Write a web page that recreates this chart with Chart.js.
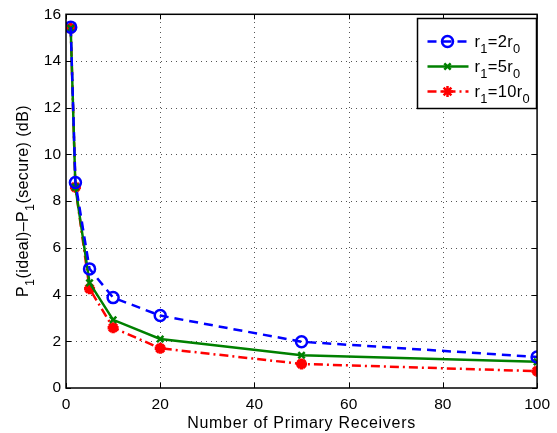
<!DOCTYPE html>
<html>
<head>
<meta charset="utf-8">
<script src="https://cdn.jsdelivr.net/npm/chart.js@4/dist/chart.umd.min.js"></script>
<style>
  html, body { margin: 0; padding: 0; background: #fff; }
  #wrap { width: 557px; height: 433px; }
</style>
</head>
<body>
<div id="wrap"><canvas id="c" width="557" height="433"></canvas></div>
<script>
// --- Data ---
const receivers = [1, 2, 5, 10, 20, 50, 100];
const ratio2 = [15.45, 8.8, 5.1, 3.87, 3.1, 1.98, 1.33];
const ratio5 = [15.4, 8.6, 4.5, 2.92, 2.1, 1.4, 1.12];
const ratio10 = [15.4, 8.6, 4.25, 2.58, 1.7, 1.03, 0.72];
const xTicks = [0, 20, 40, 60, 80, 100];
const yTicks = [0, 2, 4, 6, 8, 10, 12, 14, 16];

const FONT = 'Liberation Sans, Arial, Helvetica, sans-serif';

const series = [
    { name: ['r', '1', '=2r', '0'], values: ratio2, color: '#0000ff', dash: [9, 6], style: 'circle', radius: 5.5, fill: 'rgba(0,0,0,0)' },
    { name: ['r', '1', '=5r', '0'], values: ratio5, color: '#008000', dash: [], style: 'crossRot', radius: 4.5, fill: '#008000' },
    { name: ['r', '1', '=10r', '0'], values: ratio10, color: '#ff0000', dash: [9, 4, 2, 4], style: 'star', radius: 5.5, fill: '#ff0000' }
];

// text with subscripts: odd parts are subscripts
function drawSubText(ctx, parts, x, y, size) {
    let cx = x;
    parts.forEach((p, i) => {
        const sub = i % 2 === 1;
        ctx.font = (sub ? size * 0.78 : size) + 'px ' + FONT;
        ctx.fillText(p, cx, y + (sub ? size * 0.38 : 0));
        cx += ctx.measureText(p).width;
    });
    return cx - x;
}
function measureSubText(ctx, parts, size) {
    let w = 0;
    parts.forEach((p, i) => {
        ctx.font = (i % 2 === 1 ? size * 0.78 : size) + 'px ' + FONT;
        w += ctx.measureText(p).width;
    });
    return w;
}

const framePlugin = {
    id: 'frame',
    beforeDatasetsDraw(chart) {
        // dotted grid
        const ctx = chart.ctx;
        const a = chart.chartArea;
        const xs = chart.scales.x, ys = chart.scales.y;
        ctx.save();
        ctx.strokeStyle = '#555';
        ctx.lineWidth = 1;
        ctx.setLineDash([1, 4]);
        ctx.beginPath();
        xTicks.slice(1, -1).forEach(v => {
            const px = Math.round(xs.getPixelForValue(v)) + 0.5;
            ctx.moveTo(px, a.bottom); ctx.lineTo(px, a.top);
        });
        yTicks.slice(1, -1).forEach(v => {
            const py = Math.round(ys.getPixelForValue(v)) + 0.5;
            ctx.moveTo(a.left, py); ctx.lineTo(a.right, py);
        });
        ctx.stroke();
        ctx.restore();
    },
    afterDraw(chart) {
        const ctx = chart.ctx;
        const a = chart.chartArea;
        const xs = chart.scales.x, ys = chart.scales.y;
        ctx.save();
        ctx.strokeStyle = '#000';
        ctx.lineWidth = 1.5;
        ctx.setLineDash([]);
        ctx.strokeRect(a.left, a.top, a.right - a.left, a.bottom - a.top);
        ctx.lineWidth = 1;
        ctx.beginPath();
        xTicks.forEach(v => {
            const px = Math.round(xs.getPixelForValue(v)) + 0.5;
            ctx.moveTo(px, a.bottom); ctx.lineTo(px, a.bottom - 5);
            ctx.moveTo(px, a.top); ctx.lineTo(px, a.top + 5);
        });
        yTicks.forEach(v => {
            const py = Math.round(ys.getPixelForValue(v)) + 0.5;
            ctx.moveTo(a.left, py); ctx.lineTo(a.left + 5, py);
            ctx.moveTo(a.right, py); ctx.lineTo(a.right - 5, py);
        });
        ctx.stroke();

        // axis titles
        ctx.fillStyle = '#000';
        ctx.textBaseline = 'alphabetic';
        ctx.textAlign = 'left';
        ctx.letterSpacing = '0.7px';
        ctx.font = '16px ' + FONT;
        const xt = 'Number of Primary Receivers';
        const xw = ctx.measureText(xt).width;
        ctx.fillText(xt, (a.left + a.right) / 2 - xw / 2, 428);

        const yParts = ['P', '1', '(ideal)\u2013P', '1', '(secure) (dB)'];
        ctx.letterSpacing = '0.4px';
        const yw = measureSubText(ctx, yParts, 16);
        ctx.translate(28, 201);
        ctx.rotate(-Math.PI / 2);
        drawSubText(ctx, yParts, -yw / 2, 0, 16);
        ctx.restore();

        // legend
        ctx.save();
        const lx = 417.5, ly = 18.5, lw = 119, lh = 90;
        ctx.fillStyle = '#fff';
        ctx.fillRect(lx, ly, lw, lh);
        ctx.strokeStyle = '#000';
        ctx.lineWidth = 1.5;
        ctx.strokeRect(lx, ly, lw, lh);
        series.forEach((s, i) => {
            const ry = ly + 23 + i * 25;
            ctx.strokeStyle = s.color;
            ctx.lineWidth = 2.5;
            ctx.setLineDash(s.dash);
            ctx.beginPath();
            ctx.moveTo(lx + 10, ry); ctx.lineTo(lx + 51, ry);
            ctx.stroke();
            ctx.setLineDash([]);
            ctx.fillStyle = s.fill;
            Chart.helpers.drawPoint(ctx, { pointStyle: s.style, radius: s.radius, borderWidth: s.style === 'star' ? 3.5 : 2.5 }, lx + 30, ry);
            ctx.fillStyle = '#000';
            ctx.letterSpacing = '0.3px';
            drawSubText(ctx, s.name, lx + 57, ry + 5, 16.5);
        });
        ctx.restore();
    }
};

const datasets = series.map(s => ({
    data: receivers.map((r, i) => ({ x: r, y: s.values[i] })),
    borderColor: s.color,
    backgroundColor: s.fill,
    borderWidth: 2.5,
    borderDash: s.dash,
    pointStyle: s.style,
    pointRadius: s.radius,
    pointBorderWidth: s.style === 'star' ? 3.5 : 2.5,
    pointBorderColor: s.color,
    pointBackgroundColor: s.fill,
    showLine: true,
    tension: 0
}));

new Chart(document.getElementById('c').getContext('2d'), {
    type: 'scatter',
    data: { datasets },
    plugins: [framePlugin],
    options: {
        responsive: false,
        animation: false,
        layout: { padding: { left: 0, top: 12, right: 15, bottom: 0 } },
        plugins: { legend: { display: false }, tooltip: { enabled: false } },
        scales: {
            x: {
                type: 'linear', min: 0, max: 100,
                afterBuildTicks: s => { s.ticks = xTicks.map(v => ({ value: v })); },
                afterFit: s => { s.height = 45; },
                grid: { display: false, drawTicks: false },
                border: { display: false },
                ticks: { color: '#000', padding: 7, font: { family: FONT, size: 15.5 } }
            },
            y: {
                type: 'linear', min: 0, max: 16,
                afterBuildTicks: s => { s.ticks = yTicks.map(v => ({ value: v })); },
                afterFit: s => { s.width = 66; },
                grid: { display: false, drawTicks: false },
                border: { display: false },
                ticks: { color: '#000', padding: 5, font: { family: FONT, size: 15.5 } }
            }
        }
    }
});
</script>
</body>
</html>
